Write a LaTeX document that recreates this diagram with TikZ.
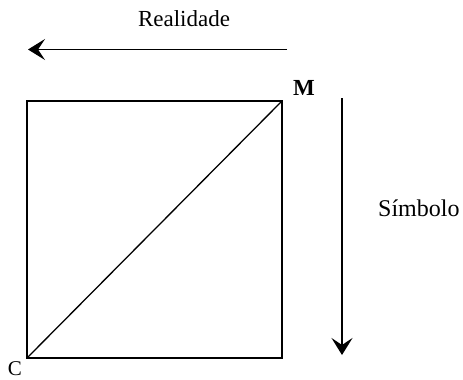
\documentclass[tikz,border=0pt]{standalone}
\usepackage{fontspec}
\setmainfont{Liberation Serif}
\usetikzlibrary{arrows.meta}
\begin{document}
\begin{tikzpicture}[x=1pt,y=-1pt,
  edge/.style={line width=1.3pt},
  arr/.style={line width=1.3pt,-{Stealth[length=17pt,width=21pt,inset=7pt]}},
  lbl/.style={inner sep=0pt,anchor=base}]
\useasboundingbox (0,0) rectangle (463,380);
\coordinate (C) at (27,358);
\coordinate (TL) at (27,101);
\coordinate (M) at (282,101);
\coordinate (BR) at (282,358);
\draw[edge] (C) -- (TL) -- (M) -- (BR) -- cycle;
\draw[edge] (C) -- (M);
\coordinate (r1) at (287,49.5);
\coordinate (r2) at (28,49.5);
\draw[arr] (r1) -- (r2);
\coordinate (s1) at (342,98);
\coordinate (s2) at (342,355);
\draw[arr] (s1) -- (s2);
\node[lbl] (real) at (184,27) {\fontsize{23}{25}\selectfont Realidade};
\node[lbl,anchor=base west] (simb) at (378,216) {\fontsize{24}{26}\selectfont Símbolo};
\node[lbl] (mlab) at (304,95) {\fontsize{23}{25}\selectfont\bfseries M};
\node[lbl] (clab) at (15,375) {\fontsize{21}{23}\selectfont C};
\end{tikzpicture}
\end{document}
